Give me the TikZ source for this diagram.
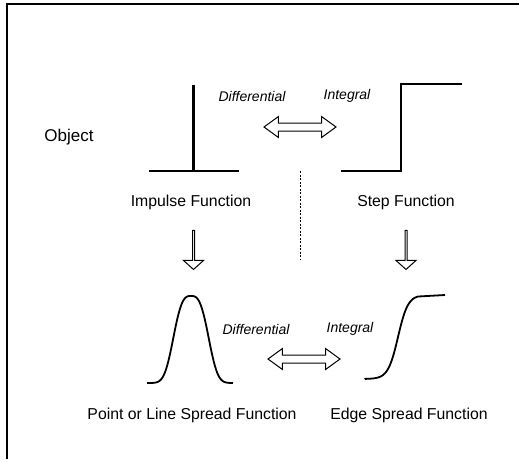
\documentclass[tikz,border=0pt]{standalone}
\usepackage{fontspec}
\setmainfont{Liberation Sans}
\usetikzlibrary{shapes.arrows}
\begin{document}
\begin{tikzpicture}[x=1pt,y=-1pt,
  lbl/.style={inner sep=0pt,font=\fontsize{15.8}{18}\selectfont},
  ital/.style={inner sep=0pt,font=\fontsize{14}{16}\selectfont\itshape},
  curve/.style={line width=1.8pt,line join=round},
  harrow/.style={double arrow,draw,line width=1pt,minimum height=72pt,minimum width=20pt,
     inner xsep=0pt,inner ysep=3.5pt,double arrow head extend=6.5pt,double arrow tip angle=72},
  varrow/.style={single arrow,draw,line width=1pt,minimum height=39pt,minimum width=20pt,
     inner xsep=0pt,inner ysep=5.5pt,single arrow head extend=4.5pt,single arrow tip angle=96,
     shape border rotate=270}]
\useasboundingbox (0,0) rectangle (519,461);
% frame
\draw[line width=1.6pt] (7,459) -- (7,4) -- (519,4);
% impulse
\draw[line width=1.6pt] (149,171) -- (239,171);
\draw[line width=3pt] (193,171) -- (193,85);
% step
\draw[line width=2.2pt,line join=miter] (341,171) -- (401,171) -- (401,84) -- (462,84);
% labels
\node[lbl,font=\fontsize{17}{20}\selectfont] (obj) at (69,137) {Object};
\node[ital] (dif1) at (252,96) {Differential};
\node[ital] (int1) at (347,96) {Integral};
\node[harrow] (ha1) at (300,127) {};
\node[lbl] (imp) at (191,202) {Impulse Function};
\node[lbl] (stp) at (406,202) {Step Function};
\draw[line width=0.8pt,dash pattern=on 2pt off 1.5pt] (300,171) -- (300,260);
\node[varrow] (va1) at (193.5,249.5) {};
\node[varrow] (va2) at (406,249.5) {};
% gaussian
\draw[curve] (147,383) -- (150,383) -- plot[domain=-41:41,samples=90,smooth] ({191+\x},{383-87*exp(-0.693*abs(\x/18)^3)}) -- (233,383);
% sigmoid
\draw[curve] (365,379) -- plot[domain=-33:20,samples=80,smooth] ({398+\x},{379-84/(1+exp(-\x/5))}) -- (445,295);
\node[ital] (dif2) at (256,329) {Differential};
\node[ital] (int2) at (350,329) {Integral};
\node[harrow] (ha2) at (304,359) {};
\node[lbl] (psf) at (192,415) {Point or Line Spread Function};
\node[lbl] (esf) at (409,415) {Edge Spread Function};
\end{tikzpicture}
\end{document}
